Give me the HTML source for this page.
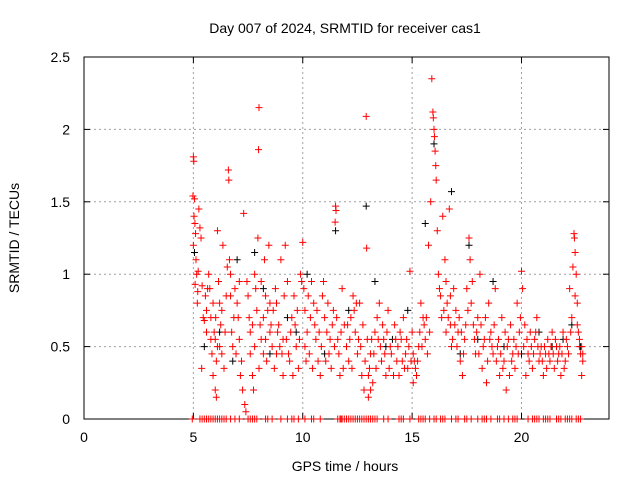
<!DOCTYPE html>
<html><head><meta charset="utf-8"><style>body{margin:0;background:#fff}svg{display:block;font-family:"Liberation Sans",sans-serif}</style></head>
<body>
<svg id="chart" width="640" height="480" xmlns="http://www.w3.org/2000/svg">
<text x="345" y="33" text-anchor="middle" font-size="14">Day 007 of 2024, SRMTID for receiver cas1</text>
<text x="345" y="471" text-anchor="middle" font-size="14">GPS time / hours</text>
<text transform="translate(19,238) rotate(-90)" text-anchor="middle" font-size="14">SRMTID / TECUs</text>
<g id="grid"></g>
<g id="axes"></g>
<g id="marks"></g>
</svg>
<script>
const xTicks=[0,5,10,15,20];
const yTicks=[0,0.5,1,1.5,2,2.5];
const yTickLabels=["0","0.5","1","1.5","2","2.5"];
const redT=[5.0,5.02,4.98,5.05,5.03,5.07,5.1,5.0,5.12,5.15,5.08,5.2,5.18,5.25,5.3,5.35,5.22,5.4,5.45,5.5,5.38,5.55,5.6,5.7,5.75,5.8,5.85,5.9,5.95,6.0,6.02,6.05,6.1,6.1,6.15,6.2,6.25,6.3,6.35,6.4,6.5,6.55,6.6,6.62,6.65,6.7,6.75,6.8,6.9,7.0,7.05,7.1,7.2,7.25,7.3,7.35,7.4,7.45,7.5,7.55,7.6,7.7,7.75,7.8,7.85,7.95,8.0,7.98,8.05,8.1,8.2,8.25,8.3,8.4,8.45,8.5,8.6,8.7,8.75,8.8,8.9,9.0,9.05,9.1,9.2,9.25,9.3,9.4,9.5,9.6,9.7,9.8,9.9,10.0,10.05,10.1,10.2,10.3,10.4,10.5,10.6,10.7,10.8,10.9,11.0,11.1,11.2,11.3,11.4,11.5,11.52,11.48,11.6,11.7,11.8,11.9,12.0,12.1,12.2,12.3,12.4,12.5,12.6,12.7,12.8,12.9,12.92,12.95,13.0,13.05,13.1,13.2,13.3,13.4,13.5,13.6,13.7,13.8,13.9,14.0,14.2,14.3,14.4,14.5,14.6,14.7,14.8,14.9,15.0,15.05,15.1,15.2,15.3,15.4,15.5,15.6,15.7,15.75,15.85,15.9,15.95,15.97,16.0,16.02,16.05,16.08,16.1,16.15,16.2,16.3,16.35,16.4,16.5,16.55,16.6,16.7,16.75,16.8,16.9,17.0,17.1,17.2,17.3,17.4,17.5,17.6,17.65,17.7,17.8,17.9,18.0,18.1,18.2,18.3,18.4,18.5,18.6,18.7,18.8,18.9,19.0,19.1,19.2,19.3,19.4,19.5,19.6,19.7,19.8,19.9,20.0,20.05,20.1,20.2,20.3,20.4,20.5,20.6,20.7,20.8,20.9,21.0,21.1,21.2,21.3,21.4,21.5,21.6,21.7,21.8,21.9,22.0,22.1,22.2,22.3,22.35,22.4,22.42,22.45,22.5,22.55,22.6,22.65,22.7,22.8,22.75,
5.6,5.65,5.8,5.9,6.0,6.05,6.2,6.3,6.45,6.7,6.85,6.95,7.1,7.15,7.6,7.7,7.8,7.9,8.0,8.1,8.2,8.3,8.35,8.5,8.55,8.65,8.8,8.85,8.95,9.1,9.15,9.35,9.45,9.55,9.65,9.75,9.85,9.95,10.1,10.15,10.25,10.35,10.45,10.55,10.65,10.75,10.85,10.95,11.05,11.15,11.25,11.35,11.45,11.55,11.65,11.75,11.85,12.05,12.15,12.25,12.35,12.45,12.55,12.65,12.75,12.85,13.0,13.1,13.15,13.25,13.35,13.45,13.55,13.65,13.75,13.85,13.95,14.05,14.15,14.25,14.35,14.45,14.55,14.65,14.75,14.85,14.95,15.05,15.15,15.25,15.35,15.45,15.55,15.65,15.8,16.25,16.45,16.55,16.65,16.75,16.85,16.95,17.05,17.15,17.25,17.35,17.45,17.55,17.75,17.85,17.95,18.05,18.15,18.25,18.35,18.45,18.55,18.65,18.75,18.85,18.95,19.05,19.15,19.25,19.35,19.45,19.55,19.65,19.75,19.85,19.95,20.15,20.25,20.35,20.45,20.55,20.65,20.75,20.85,20.95,21.05,21.15,21.25,21.35,21.45,21.55,21.65,21.75,21.85,21.95,22.05,22.15,22.25,22.45,22.55,22.65,22.75,22.8];
const redV=[1.81,1.78,1.54,1.52,1.4,1.35,1.28,1.2,1.1,1.0,0.93,0.88,0.8,1.45,1.32,1.25,1.02,0.92,0.7,0.68,0.35,0.85,0.75,1.0,0.9,0.55,0.45,0.3,0.6,0.2,0.7,0.15,0.5,1.3,0.95,0.8,0.65,0.45,1.2,0.35,0.85,1.05,1.72,1.65,1.1,1.0,0.6,0.5,0.9,0.8,0.7,0.55,0.4,0.2,1.42,0.1,0.05,0.95,0.85,0.7,0.6,0.3,0.2,1.0,0.9,1.25,2.15,1.86,0.65,0.55,0.45,1.1,0.85,0.75,1.2,0.6,0.5,0.35,0.9,0.8,0.65,1.1,0.45,0.3,1.2,0.55,0.95,0.4,0.7,0.85,0.5,0.35,1.0,1.22,0.9,0.75,0.6,0.45,0.95,0.8,0.55,0.4,0.3,0.85,0.7,0.6,0.45,0.35,0.75,1.47,1.44,1.36,0.55,0.3,0.9,0.65,0.5,0.4,0.7,0.85,0.6,0.45,0.8,0.3,0.2,2.09,1.18,0.55,0.15,0.35,0.45,0.25,0.6,0.7,0.8,0.4,0.55,0.3,0.75,0.5,0.65,0.4,0.3,0.55,0.7,0.45,0.35,1.02,0.6,0.25,0.4,0.3,0.5,0.8,0.7,0.55,0.45,1.2,1.5,2.35,2.12,2.08,2.0,1.95,1.85,1.75,1.65,1.3,1.0,0.85,0.7,1.4,1.1,0.95,0.8,1.45,0.65,0.5,0.9,0.75,0.6,0.4,0.3,0.55,0.9,1.25,1.1,0.8,0.65,0.45,0.7,1.0,0.35,0.55,0.25,0.8,0.6,0.45,0.9,0.5,0.3,0.7,0.4,0.2,0.55,0.65,0.45,0.35,0.8,0.6,1.02,0.9,0.5,0.3,0.45,0.6,0.35,0.55,0.7,0.4,0.5,0.3,0.45,0.55,0.4,0.6,0.35,0.5,0.45,0.3,0.6,0.4,0.5,0.9,0.7,1.05,1.28,1.25,1.15,1.0,0.8,0.6,0.5,0.45,0.4,0.3,
0.6,0.9,0.7,0.8,0.55,0.4,0.5,0.75,0.6,0.85,0.7,0.45,0.95,0.3,0.45,0.65,0.5,0.75,0.35,0.95,0.7,0.55,0.4,0.8,0.65,0.75,0.45,0.6,0.5,0.55,0.85,0.45,0.6,0.3,0.65,0.75,0.55,0.95,0.5,0.4,0.85,0.7,0.35,0.65,0.75,0.6,0.5,0.95,0.4,0.8,0.55,0.65,0.5,0.7,0.45,0.6,0.35,0.65,0.55,0.35,0.75,0.8,0.55,0.5,0.65,0.4,0.3,0.2,0.55,0.45,0.35,0.55,0.5,0.65,0.45,0.6,0.35,0.45,0.3,0.55,0.5,0.6,0.4,0.35,0.55,0.5,0.4,0.45,0.35,0.4,0.6,0.5,0.65,0.7,0.6,0.9,0.75,0.6,0.7,0.85,0.55,0.65,0.5,0.7,0.6,0.45,0.65,0.75,0.95,0.55,0.6,0.45,0.65,0.5,0.7,0.4,0.55,0.5,0.65,0.4,0.55,0.45,0.35,0.6,0.5,0.3,0.4,0.55,0.5,0.45,0.7,0.65,0.55,0.4,0.5,0.45,0.6,0.5,0.45,0.4,0.5,0.35,0.45,0.5,0.45,0.55,0.4,0.5,0.45,0.35,0.55,0.45,0.6,0.85,0.65,0.55,0.5,0.45];
const blackT=[5.05,5.5,6.8,7.0,7.8,8.2,9.3,10.2,11.0,11.5,12.1,12.9,13.3,14.1,14.8,15.6,16.0,16.8,17.2,17.6,18.0,18.7,19.2,20.0,20.8,21.4,21.9,22.3,22.7,6.2,8.5,9.7,13.8];
const blackV=[1.15,0.5,0.4,1.1,1.15,0.9,0.7,1.0,0.45,1.3,0.75,1.47,0.95,0.55,0.75,1.35,1.9,1.57,0.45,1.2,0.55,0.95,0.5,0.45,0.6,0.5,0.55,0.65,0.5,0.6,0.45,0.6,0.5];
const zeroT=[4.95,5.3,5.5,5.7,5.9,6.1,6.4,6.7,6.9,7.1,7.5,7.7,7.9,8.3,8.6,9.0,9.3,9.6,9.8,10.1,10.4,10.8,11.6,11.75,11.9,12.1,12.3,12.5,12.7,12.9,13.1,13.4,13.7,13.9,14.4,14.6,14.9,15.3,15.6,15.8,16.0,16.3,16.5,16.8,17.1,17.4,17.7,18.0,18.3,18.6,18.9,19.2,19.4,19.6,19.8,20.3,20.5,20.8,21.1,21.3,21.6,21.8,22.1,22.3,22.5,22.7,
5.4,5.6,5.8,6.0,6.2,6.3,6.5,7.6,7.8,8.4,9.5,10.5,11.7,11.8,12.0,12.2,12.4,12.6,12.8,13.0,13.2,13.3,14.5,15.4,15.5,16.1,16.4,17.0,17.5,18.2,18.4,19.0,19.7,20.6,20.7,21.0,21.2,21.7,22.0,22.2,22.6];

const L=84,R=609,T=57,B=419,XMAX=24,YMAX=2.5;
const sx=v=>L+v/XMAX*(R-L), sy=v=>B-v/YMAX*(B-T);
const NS="http://www.w3.org/2000/svg";
function mk(tag,attrs,parent){const e=document.createElementNS(NS,tag);for(const k in attrs)e.setAttribute(k,attrs[k]);parent.appendChild(e);return e;}
const grid=document.getElementById('grid'),axes=document.getElementById('axes'),marks=document.getElementById('marks');
xTicks.forEach(t=>{const x=sx(t);
 if(t>0){const g=mk('line',{x1:x,y1:T,x2:x,y2:B,stroke:'#a0a0a0','stroke-dasharray':'2,3'},grid);
 
 }
 mk('line',{x1:x,y1:B,x2:x,y2:B-6,stroke:'#000'},axes);
 mk('line',{x1:x,y1:T,x2:x,y2:T+6,stroke:'#000'},axes);
 const tx=mk('text',{x:x,y:442,'text-anchor':'middle','font-size':14},axes);tx.textContent=t;
 
 });
yTicks.forEach((t,i)=>{const y=sy(t);
 if(t>0&&t<YMAX){const g=mk('line',{x1:L,y1:y,x2:R,y2:y,stroke:'#a0a0a0','stroke-dasharray':'2,3'},grid);
 
 }
 mk('line',{x1:L,y1:y,x2:L+6,y2:y,stroke:'#000'},axes);
 mk('line',{x1:R,y1:y,x2:R-6,y2:y,stroke:'#000'},axes);
 const tx=mk('text',{x:70,y:y+5,'text-anchor':'end','font-size':14},axes);tx.textContent=yTickLabels[i];
 
 });
const frame=mk('rect',{x:L,y:T,width:R-L,height:B-T,fill:'none',stroke:'#000'},axes);


function plus(t,v,color,name){const x=sx(t),y=sy(v);
 const p=mk('path',{d:`M${x-3.5},${y}h7M${x},${y-3.5}v7`,stroke:color,'stroke-width':1,fill:'none'},marks);
 
 }
blackT.forEach((t,i)=>plus(t,blackV[i],'#000','black-point'));
redT.forEach((t,i)=>plus(t,redV[i],'#f00','red-point'));
zeroT.forEach(t=>plus(t,0,'#f00','zero-point'));
</script>
</body></html>
